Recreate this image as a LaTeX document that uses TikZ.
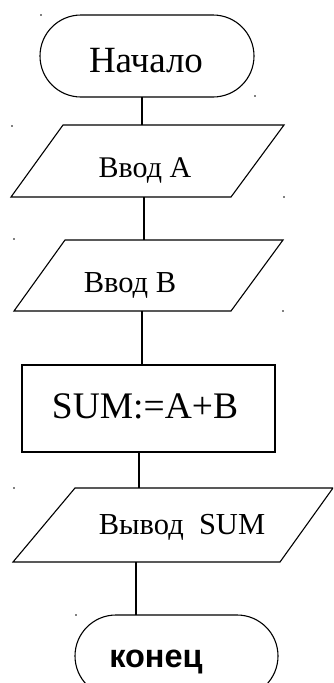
\documentclass[tikz,border=0pt]{standalone}
\usepackage{fontspec}
\setmainfont{Liberation Serif}
\newfontfamily\sansb{Liberation Sans}
\begin{document}
\begin{tikzpicture}[x=1pt,y=-1pt,
  outline/.style={draw=black, line width=1.1pt, line join=miter},
  lbl/.style={anchor=base, inner sep=0pt, outer sep=0pt},
  link/.style={draw=black, line width=1.1pt},
  speck/.style={fill=black}]
\useasboundingbox (0,0) rectangle (333,683);
\clip (0,0) rectangle (333,683);

% start terminal
\draw[outline, rounded corners=41pt] (40,15) rectangle (254,97);
\node[lbl, font=\fontsize{37}{40}\selectfont] (start) at (146,72) {Начало};
\coordinate (startB) at (142,97);

% input A
\draw[outline] (63,125) -- (284,125) -- (231,197) -- (11,197) -- cycle;
\node[lbl, font=\fontsize{30}{34}\selectfont] (inA) at (145,177) {Ввод A};
\coordinate (inAT) at (142,125);
\coordinate (inAB) at (144,197);

% input B
\draw[outline] (65,240) -- (283,240) -- (231,311) -- (14,311) -- cycle;
\node[lbl, font=\fontsize{30.5}{34}\selectfont] (inB) at (130,292) {Ввод B};
\coordinate (inBT) at (144,240);
\coordinate (inBB) at (142,311);

% process
\draw[outline] (22,365) rectangle (275,452);
\node[lbl, font=\fontsize{37.5}{42}\selectfont] (proc) at (145,418) {SUM:=A+B};
\coordinate (procT) at (142,365);
\coordinate (procB) at (139,452);

% output
\draw[outline] (75,488) -- (333,488) -- (280,562) -- (13,562) -- cycle;
\node[lbl, font=\fontsize{30.5}{34}\selectfont] (outp) at (182,534) {Вывод\ \ SUM};
\coordinate (outT) at (139,488);
\coordinate (outB) at (136,562);

% end terminal
\draw[outline, rounded corners=41pt] (75,615) rectangle (278,697);
\node[lbl, font=\sansb\bfseries\fontsize{32.5}{36}\selectfont] (fin) at (156,667) {конец};
\coordinate (finT) at (136,615);

% connectors
\draw[link] (startB) -- (inAT);
\draw[link] (inAB) -- (inBT);
\draw[link] (inBB) -- (procT);
\draw[link] (procB) -- (outT);
\draw[link] (outB) -- (finT);

% stray specks
\foreach \p in {(41,15),(255,96),(12,126),(284,197),(14,239),(283,311),(14,488),(76,615)}
  \fill[speck] \p circle (0.8pt);
\end{tikzpicture}
\end{document}
